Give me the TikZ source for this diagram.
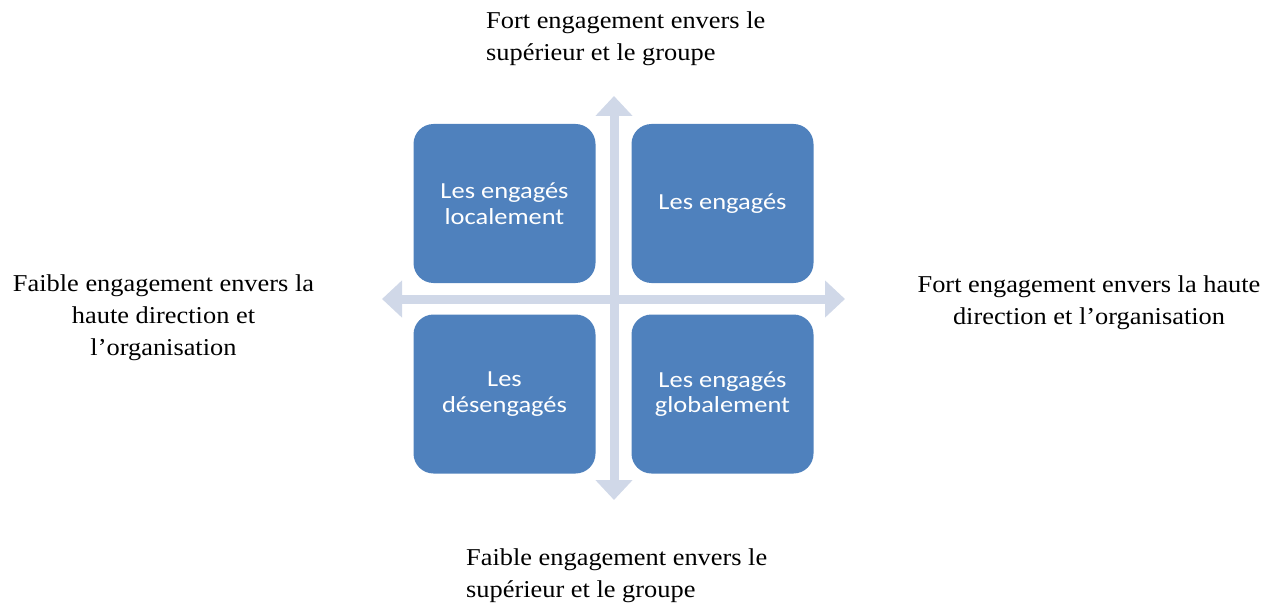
\documentclass[tikz,border=0pt]{standalone}
\usepackage{fontspec}
\setmainfont[FakeStretch=1.09]{Liberation Serif}
\newfontfamily\boxfont[FakeStretch=1.15]{Carlito}
\usetikzlibrary{arrows.meta}
\definecolor{boxblue}{HTML}{4F81BD}
\definecolor{axisgray}{HTML}{D0D8E8}
\begin{document}
\begin{tikzpicture}[x=1pt,y=-1pt,
  quad/.style={fill=boxblue, rounded corners=20pt, minimum width=182pt, minimum height=159pt,
    inner sep=0pt, text=white, font=\boxfont\fontsize{23}{25.5}\selectfont, align=center},
  axis/.style={draw=axisgray, line width=9pt,
    {Triangle[width=36pt,length=20pt]}-{Triangle[width=36pt,length=20pt]}},
  lbl/.style={font=\fontsize{24.2}{32}\selectfont, inner sep=0pt}]
\useasboundingbox (0,0) rectangle (1279,604);
\coordinate (n) at (614,96);
\coordinate (s) at (614,500);
\coordinate (w) at (382,299);
\coordinate (e) at (845,299);
\draw[axis] (n) -- (s);
\draw[axis] (w) -- (e);
\node[quad] (tl) at (504.5,203.5) {Les engagés\\localement};
\node[quad] (tr) at (722.5,203.5) {Les engagés};
\node[quad] (bl) at (504.5,394) {Les\\désengagés};
\node[quad] (br) at (722.5,394) {Les engagés\\globalement};
\node[lbl, anchor=base west, align=left] (top) at (486,61) {Fort engagement envers le\\supérieur et le groupe};
\node[lbl, anchor=base west, align=left] (bottom) at (466,597) {Faible engagement envers le\\supérieur et le groupe};
\node[lbl, anchor=base, align=center] (left) at (163.5,355) {Faible engagement envers la\\haute direction et\\l’organisation};
\node[lbl, anchor=base, align=center] (right) at (1089,324) {Fort engagement envers la haute\\direction et l’organisation};
\end{tikzpicture}
\end{document}
